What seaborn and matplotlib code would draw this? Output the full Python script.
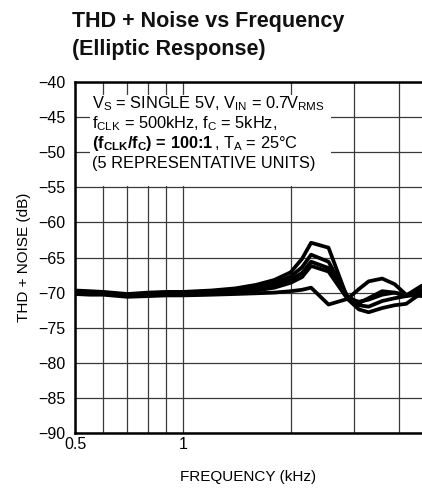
import matplotlib
matplotlib.use("Agg")
import numpy as np
import pandas as pd
import seaborn as sns
import matplotlib.pyplot as plt
from matplotlib.patches import Rectangle

# ---------------- data ----------------
freq_khz = [0.50, 0.55, 0.60, 0.70, 0.80, 0.90, 1.00, 1.20, 1.40, 1.60, 1.80,
            2.00, 2.15, 2.28, 2.55, 2.88, 3.10, 3.30, 3.60, 3.90, 4.20, 4.65]
unit_1 = [-69.7, -69.8, -69.9, -70.2, -70.0, -69.9, -69.9, -69.7, -69.4, -68.9, -68.2,
          -67.1, -65.2, -62.9, -63.6, -70.8, -71.3, -71.0, -70.3, -70.0, -70.4, -69.0]
unit_2 = [-69.8, -69.9, -70.0, -70.3, -70.1, -70.0, -70.0, -69.8, -69.6, -69.2, -68.6,
          -67.7, -66.4, -64.6, -65.6, -70.5, -71.5, -70.8, -69.8, -70.0, -70.5, -69.6]
unit_3 = [-69.9, -70.0, -70.1, -70.4, -70.2, -70.1, -70.1, -70.0, -69.8, -69.5, -69.0,
          -68.2, -67.2, -65.6, -66.5, -70.6, -71.8, -72.0, -71.2, -70.8, -70.5, -70.2]
unit_4 = [-70.1, -70.2, -70.2, -70.5, -70.4, -70.3, -70.3, -70.2, -70.0, -69.7, -69.3,
          -68.6, -67.8, -66.2, -67.0, -70.9, -72.4, -72.8, -72.2, -71.8, -71.6, -70.0]
unit_5 = [-70.2, -70.3, -70.3, -70.6, -70.5, -70.4, -70.4, -70.3, -70.2, -70.1, -70.0,
          -69.8, -69.6, -69.3, -71.7, -70.9, -69.5, -68.4, -68.0, -68.8, -70.3, -70.5]
units = {"U1": unit_1, "U2": unit_2, "U3": unit_3, "U4": unit_4, "U5": unit_5}

grid_freqs = [0.6, 0.7, 0.8, 0.9, 2, 3, 4]
x_ticks = [0.5, 1]
x_tick_labels = ["0.5", "1"]
y_ticks = [-90, -85, -80, -75, -70, -65, -60, -55, -50, -45, -40]

df = pd.concat([pd.DataFrame({"freq": freq_khz, "thdn": v, "unit": k})
                for k, v in units.items()], ignore_index=True)

# ---------------- style ----------------
sns.set_theme(style="white")
FONT = "Liberation Sans"
plt.rcParams['font.family'] = [FONT, 'DejaVu Sans']
plt.rcParams['axes.unicode_minus'] = True

fig = plt.figure(figsize=(4.22, 4.90), dpi=100)
ax = fig.add_axes([75/422, 57/490, 347/422, 351/490])

sns.lineplot(data=df, x="freq", y="thdn", units="unit", estimator=None,
             color="black", lw=2.7, sort=False, ax=ax, zorder=5)

ax.set_xscale("log")
ax.set_xlim(0.5, 4.65)
ax.set_ylim(-90, -40)
ax.set_xticks(x_ticks)
ax.set_xticklabels(x_tick_labels)
ax.set_xticks(grid_freqs, minor=True)
ax.set_xticklabels([""] * len(grid_freqs), minor=True)
ax.set_yticks(y_ticks)
ax.set_yticklabels([f"\u2212{abs(v)}" for v in y_ticks])
ax.tick_params(axis="both", which="both", length=0, labelsize=11.5, colors="black")
ax.tick_params(axis="x", pad=3)
ax.tick_params(axis="y", pad=7)
ax.grid(True, which="both", color="#3a3a3a", lw=0.9)
ax.set_axisbelow(True)

for s in ["left", "bottom", "top"]:
    ax.spines[s].set_color("black")
    ax.spines[s].set_linewidth(1.8)
ax.spines["right"].set_visible(False)

ax.set_xlabel("FREQUENCY (kHz)", fontsize=11, color="black", labelpad=13)
ax.set_ylabel("THD + NOISE (dB)", fontsize=11, color="black", labelpad=5)

# title
fig.text(72/422, 1 - 27/490, "THD + Noise vs Frequency", fontsize=15.5,
         fontweight="bold", ha="left", va="baseline", color="#111111")
fig.text(72/422, 1 - 55/490, "(Elliptic Response)", fontsize=15.5,
         fontweight="bold", ha="left", va="baseline", color="#111111")

# annotation box
ax.add_patch(Rectangle((0.043, 0.703), 0.695, 0.26, transform=ax.transAxes,
                       facecolor="white", edgecolor="none", zorder=3))
tx = 0.05
kw = dict(transform=ax.transAxes, fontsize=11.8, ha="left", va="baseline",
          color="black", zorder=6)
ax.text(tx, 0.925, r"V$_\mathregular{S}$ = SINGLE 5V, V$_\mathregular{IN}$ = 0.7V$_\mathregular{RMS}$", **kw)
ax.text(tx, 0.868, r"f$_\mathregular{CLK}$ = 500kHz, f$_\mathregular{C}$ = 5kHz,", **kw)
t1 = ax.text(tx, 0.811, r"(f$_\mathregular{CLK}$/f$_\mathregular{C}$) = 100:1", fontweight="bold", **kw)
ax.annotate(r", T$_\mathregular{A}$ = 25°C", xy=(1, 0), xycoords=t1, xytext=(0, 0),
            textcoords="offset points", fontsize=11.8, ha="left", va="bottom",
            color="black", zorder=6)
ax.text(tx, 0.756, "(5 REPRESENTATIVE UNITS)", **kw)

fig.savefig("out.png", dpi=100)
